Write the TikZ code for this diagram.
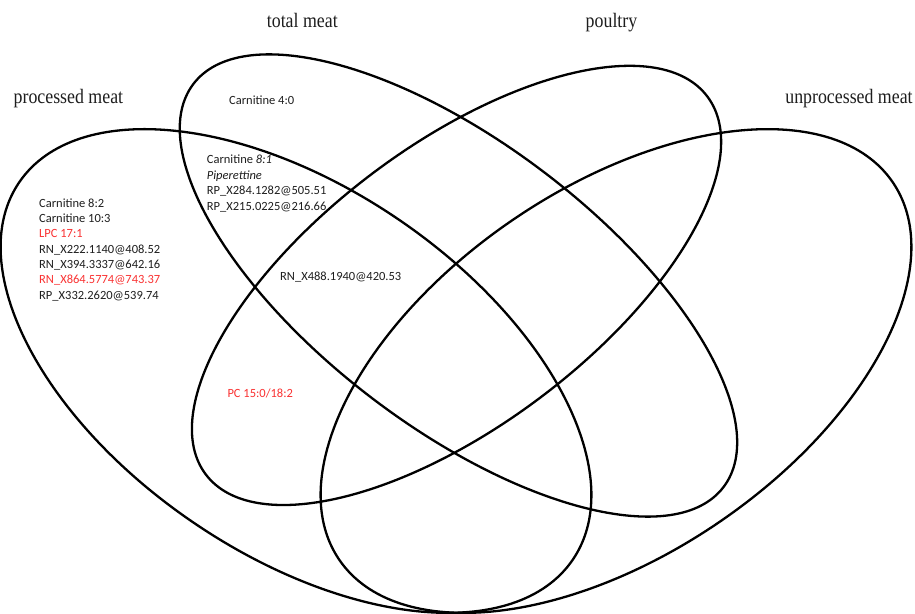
\documentclass[tikz,border=0pt]{standalone}
\usepackage{graphicx}
\usepackage{fontspec}
\setmainfont{Liberation Serif}
\newfontfamily\calibri{Carlito}
\definecolor{redtxt}{RGB}{250,50,50}
\definecolor{graytxt}{RGB}{30,30,30}
\newcommand{\narrowtitle}[1]{\scalebox{0.87}[1]{#1}}
\begin{document}
\begin{tikzpicture}[x=1pt,y=1pt,
  setline/.style={line width=2.3pt, black},
  settitle/.style={font=\fontsize{20.5}{22}\selectfont, inner sep=0pt, anchor=base, text=graytxt},
  item/.style={font=\calibri\fontsize{12.5}{15}\selectfont, inner sep=0pt, anchor=base west, text=graytxt},
  hit/.style={item, text=redtxt}]
\fill[white] (0,0) rectangle (915,613);
\useasboundingbox (0,0) rectangle (915,613);
% centres of the four sets
\coordinate (cA) at (296,242);
\coordinate (cD) at (616,242);
\coordinate (cB) at (458.5,327.5);
\coordinate (cC) at (456.5,327.5);
% processed meat
\draw[setline, rotate around={-34.3:(cA)}] (cA) ellipse [x radius=335, y radius=183];
% unprocessed meat
\draw[setline, rotate around={34.3:(cD)}] (cD) ellipse [x radius=335, y radius=183];
% total meat
\draw[setline, rotate around={-37.25:(cB)}] (cB) ellipse [x radius=333, y radius=142];
% poultry
\draw[setline, rotate around={37:(cC)}] (cC) ellipse [x radius=314, y radius=140];
% titles
\node[settitle] (tProc) at (68.4,509.5) {\narrowtitle{processed meat}};
\node[settitle] (tTotal) at (302.3,585.7) {\narrowtitle{total meat}};
\node[settitle] (tPoul) at (611.5,585.7) {\narrowtitle{poultry}};
\node[settitle] (tUnproc) at (849,509.5) {\narrowtitle{unprocessed meat}};
% processed meat only
\node[item] (p1) at (39,405.7) {Carnitine 8:2};
\node[item] (p2) at (39,390.4) {Carnitine 10:3};
\node[hit]  (p3) at (39,375.1) {LPC 17:1};
\node[item] (p4) at (39,359.8) {RN\_X222.1140@408.52};
\node[item] (p5) at (39,344.5) {RN\_X394.3337@642.16};
\node[hit]  (p6) at (39,329.2) {RN\_X864.5774@743.37};
\node[item] (p7) at (39,313.9) {RP\_X332.2620@539.74};
% total meat only
\node[item] (t1) at (229,508.3) {Carnitine 4:0};
% processed and total meat
\node[item] (q1) at (206.7,449) {Carnitine \textit{8:1}};
\node[item] (q2) at (206.7,433.3) {\textit{Piperettine}};
\node[item] (q3) at (206.7,418) {RP\_X284.1282@505.51};
\node[item] (q4) at (206.7,402.3) {RP\_X215.0225@216.66};
% processed, total meat and poultry
\node[item] (r1) at (280,332.3) {RN\_X488.1940@420.53};
% processed meat and poultry
\node[hit]  (s1) at (227.3,215) {PC 15:0/18:2};
\end{tikzpicture}
\end{document}
